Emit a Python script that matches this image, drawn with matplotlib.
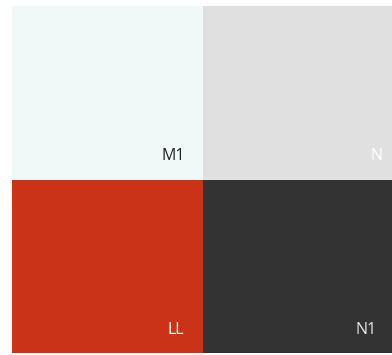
import matplotlib.pyplot as plt
from matplotlib.patches import Rectangle

# 数据：两列，每列上下两个格子
names = ["M1", "LL", "N", "N1"]
values = [1.00, 1.00, 0.99, 0.99]
colors = ["#f1f8f8", "#cb3319", "#e0e0e0", "#333333"]
text_colors = ["#222222", "#ffffff", "#ffffff", "#e8e8e8"]
columns = [[0, 1], [2, 3]]
# 标签相对格子右下角的偏移 (points)
label_offsets = [(-13, 11), (-14, 11), (-6.5, 11), (-11, 11)]

plt.rcParams["font.family"] = ["Open Sans", "DejaVu Sans"]

fig = plt.figure(figsize=(3.92, 3.55), dpi=100)
ax = fig.add_axes([12 / 392, 2 / 355, 380 / 392, 347 / 355])
ax.set_xlim(0, 1)
ax.set_ylim(0, 1)
ax.axis("off")

total = sum(values)
x0 = 0
for col in columns:
    col_sum = sum(values[i] for i in col)
    w = col_sum / total
    y_top = 1
    for i in col:
        h = values[i] / col_sum
        ax.add_patch(Rectangle((x0, y_top - h), w, h, facecolor=colors[i], edgecolor="none"))
        ax.annotate(names[i], xy=(x0 + w, y_top - h), xytext=label_offsets[i],
                    textcoords="offset points", ha="right", va="bottom",
                    fontsize=11.5, color=text_colors[i])
        y_top -= h
    x0 += w

fig.savefig("out.png", dpi=100)
